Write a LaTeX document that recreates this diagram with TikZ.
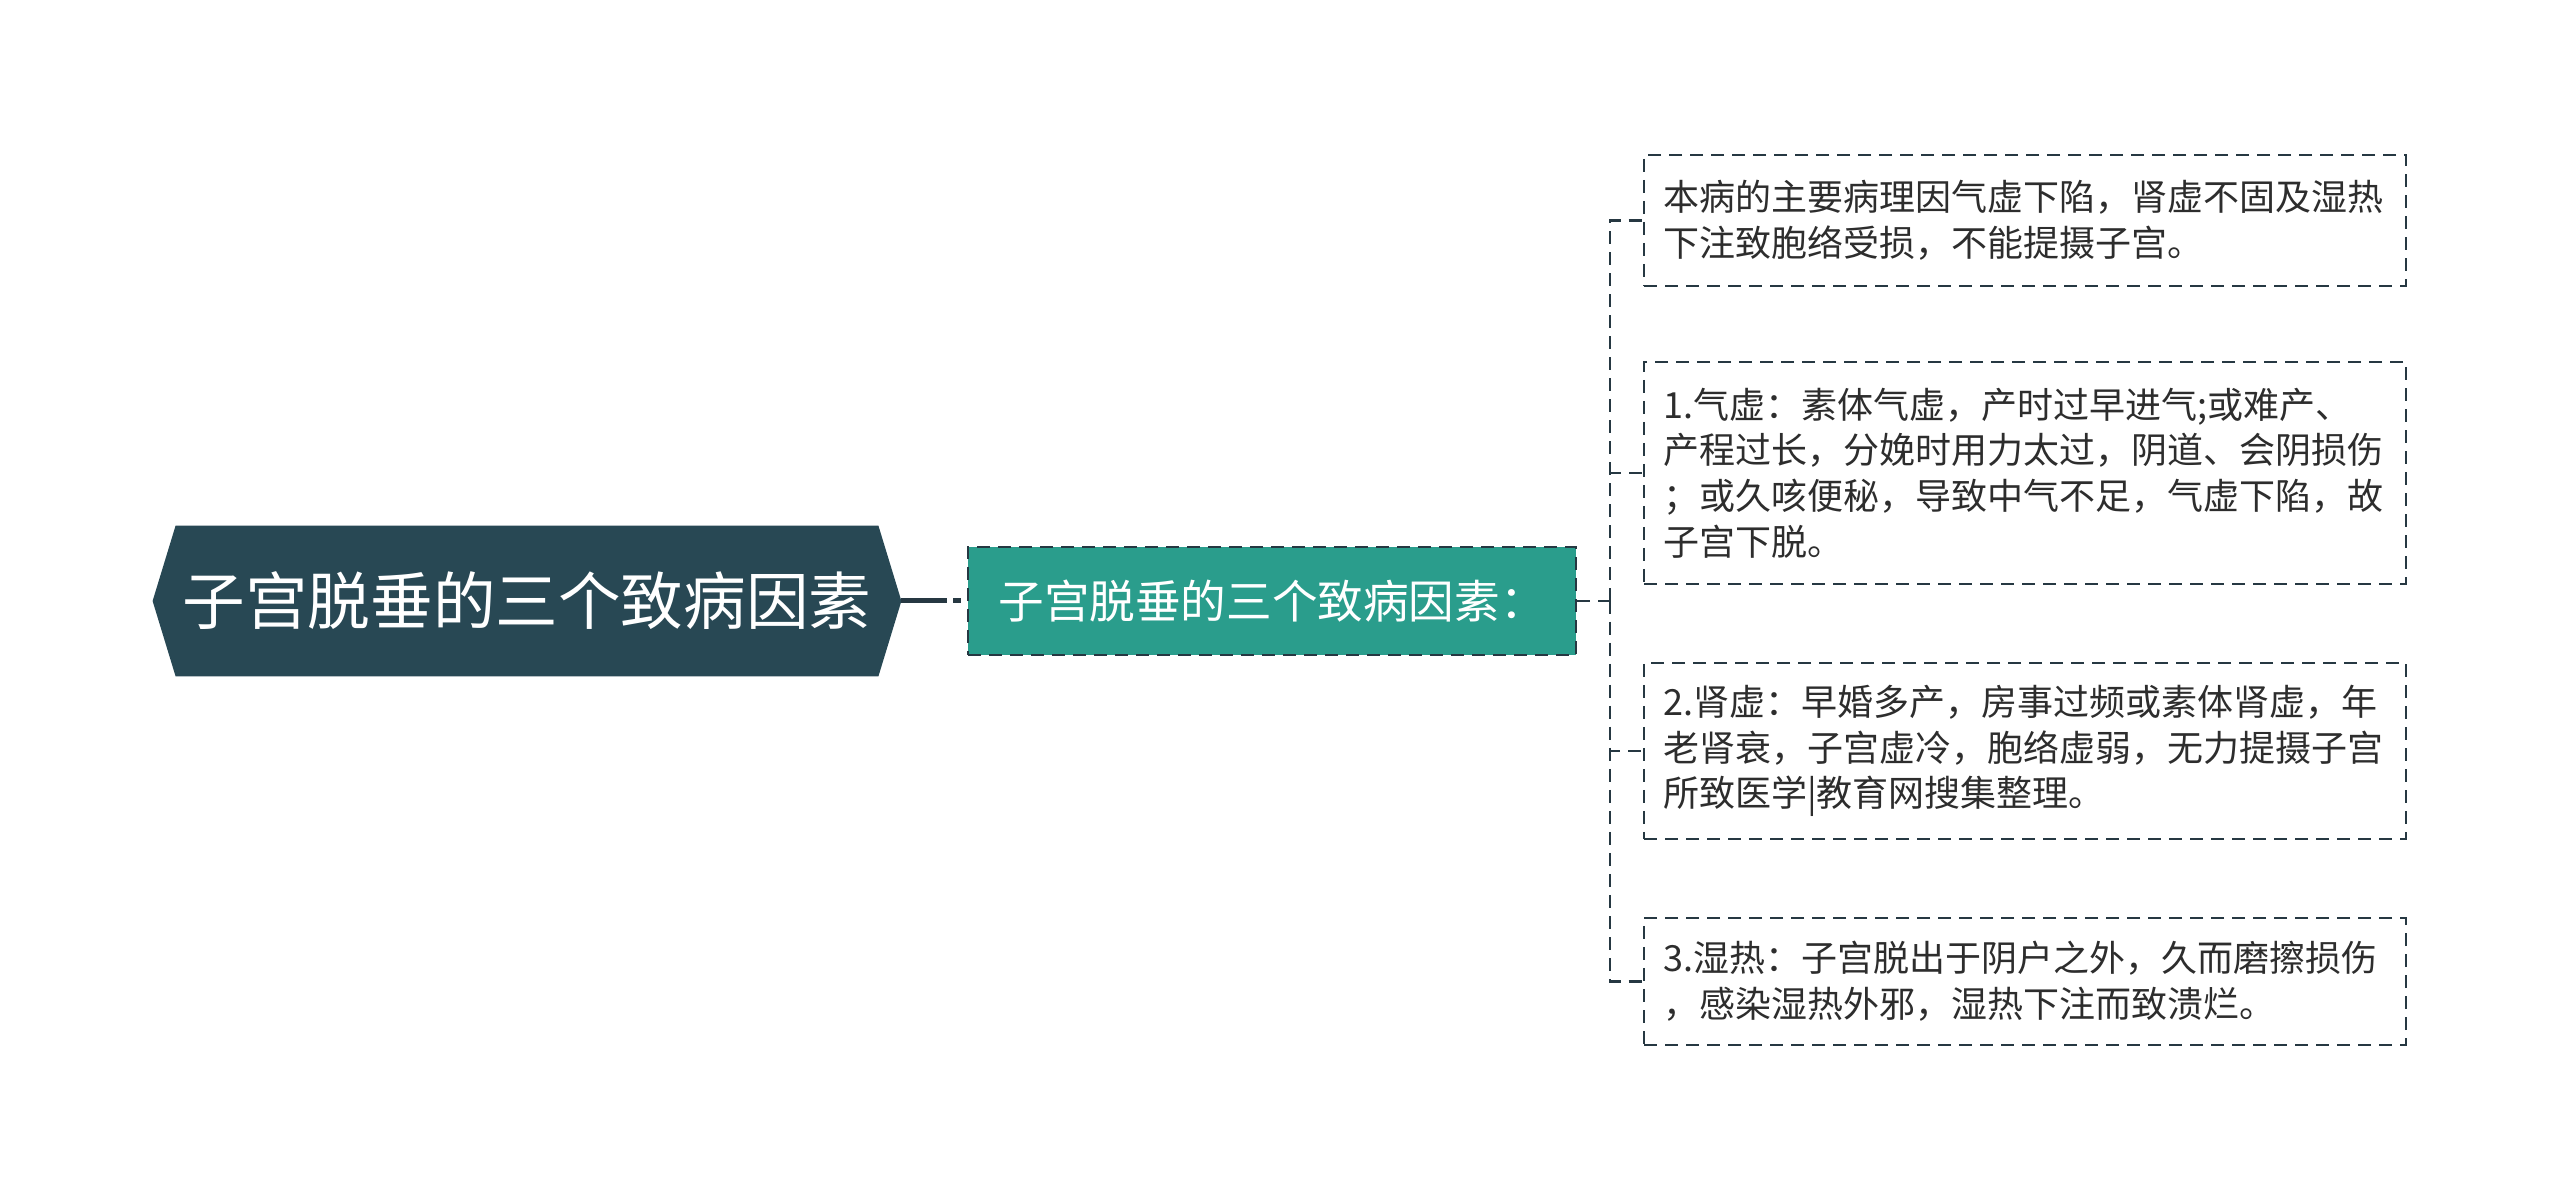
\documentclass[tikz,border=0pt]{standalone}
\usepackage{fontspec}
\newfontfamily\cjk{Noto Sans CJK SC}
\usetikzlibrary{backgrounds}
\definecolor{rootfill}{RGB}{40,72,84}
\definecolor{tealfill}{RGB}{42,157,140}
\definecolor{edgecol}{RGB}{38,56,66}
\definecolor{txt}{RGB}{45,45,45}
\tikzset{
  rootnode/.style={minimum width=351pt, minimum height=75pt, inner sep=0pt,
    text=white, font=\cjk\fontsize{31.3pt}{36pt}\selectfont},
  subnode/.style={draw=edgecol, fill=tealfill, line width=1.2pt,
    dash pattern=on 6.5pt off 4pt, minimum width=304pt, minimum height=54pt,
    inner sep=0pt, text=white, font=\cjk\fontsize{22.8pt}{26pt}\selectfont},
  leaf/.style={draw=edgecol, line width=1.2pt, dash pattern=on 6.5pt off 4pt,
    text width=362pt, inner sep=9.5pt, align=left, anchor=west, text=txt,
    font=\cjk\fontsize{18pt}{22.9pt}\selectfont},
  link/.style={draw=edgecol, line width=1.3pt, dash pattern=on 6.5pt off 4pt}
}
\begin{document}
\begin{tikzpicture}[x=0.5pt,y=-0.5pt]
\useasboundingbox (0,0) rectangle (2560,1202);
\node[rootnode] (root) at (527,601) {子宫脱垂的三个致病因素};
\begin{scope}[on background layer]
\fill[rootfill] (root.north west) -- (root.north east) -- ([xshift=11.5pt]root.east)
  -- (root.south east) -- (root.south west) -- ([xshift=-11.5pt]root.west) -- cycle;
\end{scope}
\node[subnode] (sub) at (1272,601) {子宫脱垂的三个致病因素：};
\draw[edgecol, line width=2.5pt, dash pattern=on 23pt off 3pt on 4pt off 3pt]
  ([xshift=11.5pt]root.east) -- (sub.west);
\coordinate (jn) at (1610,601);
\node[leaf, minimum height=65.5pt] (b1) at (1643,220.5)
{本病的主要病理因气虚下陷，肾虚不固及湿热\\下注致胞络受损，不能提摄子宫。};
\node[leaf, minimum height=111pt] (b2) at (1643,473)
{1.气虚：素体气虚，产时过早进气;或难产、\\产程过长，分娩时用力太过，阴道、会阴损伤\\；或久咳便秘，导致中气不足，气虚下陷，故\\子宫下脱。};
\node[leaf, minimum height=88pt] (b3) at (1643,751)
{2.肾虚：早婚多产，房事过频或素体肾虚，年\\老肾衰，子宫虚冷，胞络虚弱，无力提摄子宫\\所致医学|教育网搜集整理。};
\node[leaf, minimum height=63.5pt] (b4) at (1643,981.5)
{3.湿热：子宫脱出于阴户之外，久而磨擦损伤\\，感染湿热外邪，湿热下注而致溃烂。};
\draw[link] (sub.east) -- (jn);
\foreach \b in {b1,b2,b3,b4}
  \draw[link] (jn) |- (\b.west);
\end{tikzpicture}
\end{document}
